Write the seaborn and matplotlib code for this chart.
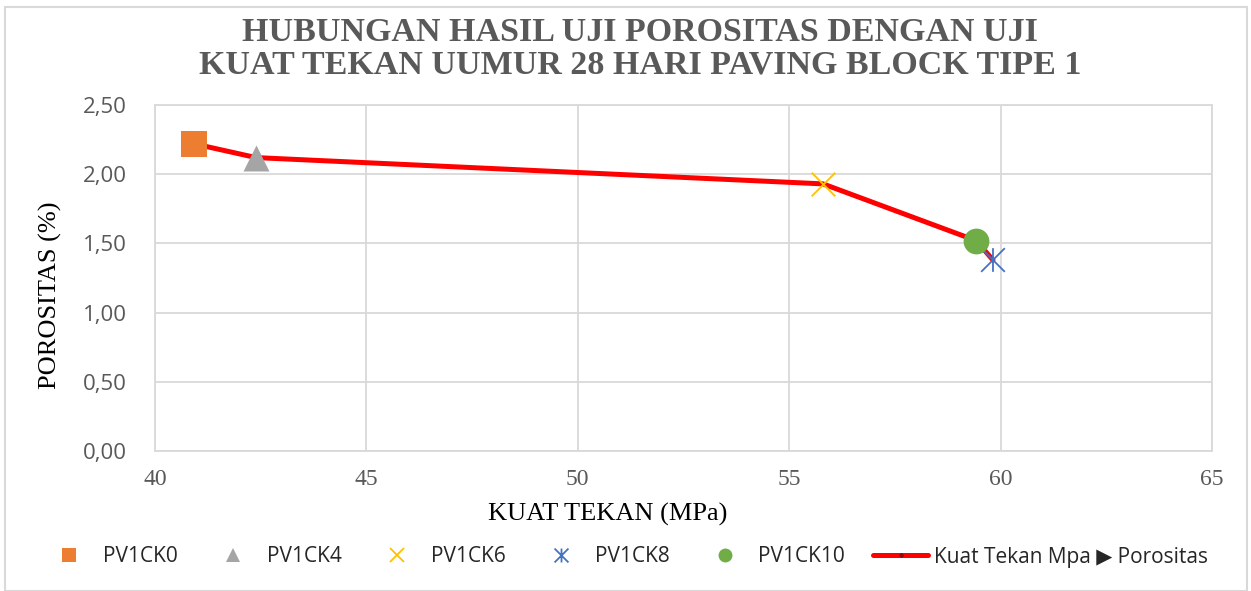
import numpy as np
import pandas as pd
import seaborn as sns
import matplotlib.pyplot as plt
from matplotlib.path import Path
from matplotlib.lines import Line2D
from matplotlib.patches import Rectangle

# ---------------- data ----------------
categories = ['PV1CK0', 'PV1CK4', 'PV1CK6', 'PV1CK8', 'PV1CK10']
kuat_tekan = [40.92, 42.39, 55.80, 59.82, 59.42]
porositas = [2.22, 2.12, 1.93, 1.38, 1.52]
line_label = 'Kuat Tekan Mpa \u25B6 Porositas'
x_ticks = [40, 45, 50, 55, 60, 65]
y_ticks = [0.0, 0.5, 1.0, 1.5, 2.0, 2.5]
y_tick_labels = ['0,00', '0,50', '1,00', '1,50', '2,00', '2,50']
title_text = 'HUBUNGAN HASIL UJI POROSITAS DENGAN UJI\nKUAT TEKAN UUMUR 28 HARI PAVING BLOCK TIPE 1'
x_label = 'KUAT TEKAN (MPa)'
y_label = 'POROSITAS (%)'

# ---------------- styles ----------------
star_path = Path([(-1, -1), (1, 1), (-1, 1), (1, -1), (0, -1), (0, 1)],
                 [Path.MOVETO, Path.LINETO, Path.MOVETO, Path.LINETO, Path.MOVETO, Path.LINETO])
colors = {'PV1CK0': '#ED7D31', 'PV1CK4': '#A5A5A5', 'PV1CK6': '#FFC000',
          'PV1CK8': '#4472C4', 'PV1CK10': '#70AD47'}
markers = {'PV1CK0': 's', 'PV1CK4': '^', 'PV1CK6': 'x', 'PV1CK8': star_path, 'PV1CK10': 'o'}
sizes = {'PV1CK0': 340, 'PV1CK4': 350, 'PV1CK6': 290, 'PV1CK8': 290, 'PV1CK10': 345}
kind = {'PV1CK0': 'fill', 'PV1CK4': 'fill', 'PV1CK6': 'line', 'PV1CK8': 'path', 'PV1CK10': 'fill'}

sns.set_theme(style='white')
plt.rcParams['font.family'] = ['Open Sans', 'DejaVu Sans']

W, H = 1251, 591
fig = plt.figure(figsize=(W / 100, H / 100), dpi=100)
ax = fig.add_axes([155 / W, 1 - 451 / H, (1212 - 155) / W, (451 - 105) / H])

df = pd.DataFrame({'cat': categories, 'x': kuat_tekan, 'y': porositas})

# line (sorted by x)
sns.lineplot(data=df, x='x', y='y', sort=True, color='#FF0000', linewidth=3.6,
             ax=ax, zorder=2, legend=False)

# markers
for c, xv, yv in zip(categories, kuat_tekan, porositas):
    if kind[c] == 'fill':
        sns.scatterplot(x=[xv], y=[yv], marker=markers[c], s=sizes[c], color=colors[c],
                        edgecolor=colors[c], linewidth=0, ax=ax, zorder=3, legend=False)
    elif kind[c] == 'line':
        sns.scatterplot(x=[xv], y=[yv], marker=markers[c], s=sizes[c], color=colors[c],
                        linewidth=1.3, ax=ax, zorder=3, legend=False)
    else:
        sns.scatterplot(x=[xv], y=[yv], marker=markers[c], s=sizes[c],
                        facecolor='none', edgecolor=colors[c],
                        linewidth=1.3, ax=ax, zorder=3, legend=False)

ax.set_xlim(40, 65)
ax.set_ylim(0, 2.5)
ax.set_xticks(x_ticks)
ax.set_xticklabels([str(t) for t in x_ticks], family=['Liberation Serif', 'DejaVu Serif'],
                   fontsize=17, color='#595959')
ax.set_yticks(y_ticks)
ax.set_yticklabels(y_tick_labels, fontsize=16, color='#595959')
ax.tick_params(axis='x', length=0, pad=13)
ax.tick_params(axis='y', length=0, pad=20)
ax.grid(True, color='#D9D9D9', linewidth=1.3)
for s in ax.spines.values():
    s.set_color('#D9D9D9')
    s.set_linewidth(1.3)

ax.set_xlabel(x_label, family=['Liberation Serif', 'DejaVu Serif'], fontsize=19, color='black')
ax.set_ylabel(y_label, family=['Liberation Serif', 'DejaVu Serif'], fontsize=19, color='black')
ax.xaxis.set_label_coords((608 - 155) / 1057, (451 - 503) / 346)
ax.yaxis.set_label_coords((62 - 155) / 1057, (451 - 295) / 346)

# title
fig.text(640 / W, 1 - 49 / H, title_text, ha='center', va='center',
         family=['Liberation Serif', 'DejaVu Serif'], fontweight='bold',
         fontsize=24.5, color='#595959', linespacing=1.05)

# legend
handles = []
for c in categories:
    if kind[c] == 'fill':
        h = Line2D([], [], linestyle='none', marker=markers[c], markersize=10,
                   markerfacecolor=colors[c], markeredgecolor=colors[c], markeredgewidth=0)
    else:
        h = Line2D([], [], linestyle='none', marker=markers[c], markersize=10,
                   markerfacecolor='none', markeredgecolor=colors[c], markeredgewidth=1.3)
    handles.append(h)
handles.append(Line2D([], [], color='#FF0000', linewidth=3.6, marker='D', markersize=2,
                      markerfacecolor='#A00000', markeredgecolor='#A00000'))
labels = categories + [line_label]
fig.legend(handles, labels, loc='center', bbox_to_anchor=(625 / W, 1 - 557 / H),
           ncol=6, frameon=False, prop={'family': ['Open Sans', 'DejaVu Sans'], 'size': 15},
           handlelength=2.64, handletextpad=0.29, columnspacing=1.35, numpoints=1)

# outer chart border
fig.patches.append(Rectangle((5 / W, 0), (1247 - 5) / W, 1 - 7 / H,
                             transform=fig.transFigure, fill=False,
                             edgecolor='#D9D9D9', linewidth=1.5))

fig.savefig('out.png', dpi=100)
